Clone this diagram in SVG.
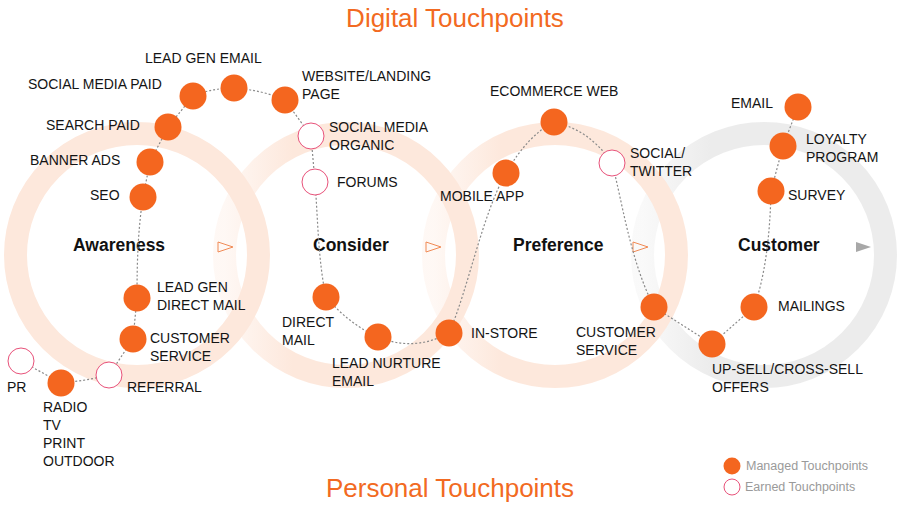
<svg xmlns="http://www.w3.org/2000/svg" width="900" height="510" viewBox="0 0 900 510">
<style>
text{font-family:"Liberation Sans",Arial,sans-serif;}
.lbl{font-size:14px;fill:#141414;}
.stage{font-size:17.5px;font-weight:bold;fill:#111;}
.title{font-size:26px;fill:#f26a22;text-anchor:middle;}
.legend{font-size:12.5px;fill:#9a9a9a;}
.m{fill:#f4661f;}
.e{fill:#fff;stroke:#e8527a;stroke-width:1;}
.ring{fill:none;stroke-width:23;}
.tri{fill:none;stroke:#f08a55;stroke-width:1;}
.conn{fill:none;stroke:#8a8a8a;stroke-width:1.2;stroke-dasharray:2 2;}
</style>
<defs>
<linearGradient id="fadeP" x1="0" y1="0" x2="1" y2="0">
<stop offset="0" stop-color="#fde8dc" stop-opacity="0.3"/>
<stop offset="0.28" stop-color="#fde8dc" stop-opacity="1"/>
<stop offset="1" stop-color="#fde8dc" stop-opacity="1"/>
</linearGradient>
<linearGradient id="fadeG" x1="0" y1="0" x2="1" y2="0">
<stop offset="0" stop-color="#ececec" stop-opacity="0.3"/>
<stop offset="0.28" stop-color="#ececec" stop-opacity="1"/>
<stop offset="1" stop-color="#ececec" stop-opacity="1"/>
</linearGradient>
</defs>
<rect width="900" height="510" fill="#fff"/>
<g id="rings">
<circle class="ring" cx="137" cy="255" r="121.5" stroke="#fde8dc"/>
<circle class="ring" cx="346" cy="255" r="121.5" stroke="url(#fadeP)"/>
<circle class="ring" cx="764" cy="255" r="121.5" stroke="url(#fadeG)"/>
<circle class="ring" cx="555" cy="255" r="121.5" stroke="url(#fadeP)"/>
</g>
<g id="stage-arrows">
<polygon class="tri" points="218,242 233,247 218,252"/>
<polygon class="tri" points="426,242 441,247 426,252"/>
<polygon class="tri" points="633,242 648,247 633,252"/>
<polygon points="856,242 871,247 856,252" fill="#a8a8a8"/>
</g>
<text class="title" x="455" y="27">Digital Touchpoints</text>
<text class="title" x="450" y="497">Personal Touchpoints</text>
<g id="stages">
<text class="stage" x="73" y="251">Awareness</text>
<text class="stage" x="313" y="251">Consider</text>
<text class="stage" x="513" y="251">Preference</text>
<text class="stage" x="738" y="251">Customer</text>
</g>
<g id="connectors">
<path class="conn" d="M21,361 L61,383 Q85,381 109,375 L133,339 L137,298 C137,260 138,230 143,197 L150,162 L168,127 L193,96 Q212,88 234,88 Q262,90 285,100 L311,136 L315,182 C318,220 318,260 326,297 Q350,325 378,337 Q414,352 449,333 C468,290 482,215 506,173 Q528,135 554,122 Q590,130 612,163 C622,200 630,260 654,307 L712,344 L754,307 C764,280 770,240 771,191 L783,146 L798,107"/>
</g>
<g id="n-pr"><circle class="e" cx="21" cy="361" r="13"/><text class="lbl" x="7" y="392">PR</text></g>
<g id="n-radio"><circle class="m" cx="61" cy="383" r="13.5"/><text class="lbl" x="43" y="412">RADIO</text><text class="lbl" x="43" y="430">TV</text><text class="lbl" x="43" y="448">PRINT</text><text class="lbl" x="43" y="466">OUTDOOR</text></g>
<g id="n-referral"><circle class="e" cx="109" cy="375" r="13"/><text class="lbl" x="127" y="392">REFERRAL</text></g>
<g id="n-custserv1"><circle class="m" cx="133" cy="339" r="13.5"/><text class="lbl" x="150" y="343">CUSTOMER</text><text class="lbl" x="150" y="361">SERVICE</text></g>
<g id="n-leadgendm"><circle class="m" cx="137" cy="298" r="13.5"/><text class="lbl" x="157" y="292">LEAD GEN</text><text class="lbl" x="157" y="310">DIRECT MAIL</text></g>
<g id="n-seo"><circle class="m" cx="143" cy="197" r="13.5"/><text class="lbl" x="90" y="200">SEO</text></g>
<g id="n-banner"><circle class="m" cx="150" cy="162" r="13.5"/><text class="lbl" x="30" y="165">BANNER ADS</text></g>
<g id="n-search"><circle class="m" cx="168" cy="127" r="13.5"/><text class="lbl" x="46" y="130">SEARCH PAID</text></g>
<g id="n-smpaid"><circle class="m" cx="193" cy="96" r="13.5"/><text class="lbl" x="28" y="89">SOCIAL MEDIA PAID</text></g>
<g id="n-lgemail"><circle class="m" cx="234" cy="88" r="13.5"/><text class="lbl" x="145" y="63">LEAD GEN EMAIL</text></g>
<g id="n-website"><circle class="m" cx="285" cy="100" r="13.5"/><text class="lbl" x="302" y="81">WEBSITE/LANDING</text><text class="lbl" x="302" y="99">PAGE</text></g>
<g id="n-smorganic"><circle class="e" cx="311" cy="136" r="13"/><text class="lbl" x="329" y="132">SOCIAL MEDIA</text><text class="lbl" x="329" y="150">ORGANIC</text></g>
<g id="n-forums"><circle class="e" cx="315" cy="182" r="13"/><text class="lbl" x="337" y="187">FORUMS</text></g>
<g id="n-directmail"><circle class="m" cx="326" cy="297" r="13.5"/><text class="lbl" x="282" y="327">DIRECT</text><text class="lbl" x="282" y="345">MAIL</text></g>
<g id="n-leadnurture"><circle class="m" cx="378" cy="337" r="13.5"/><text class="lbl" x="332" y="368">LEAD NURTURE</text><text class="lbl" x="332" y="386">EMAIL</text></g>
<g id="n-instore"><circle class="m" cx="449" cy="333" r="13.5"/><text class="lbl" x="471" y="338">IN-STORE</text></g>
<g id="n-mobile"><circle class="m" cx="506" cy="173" r="13.5"/><text class="lbl" x="440" y="201">MOBILE APP</text></g>
<g id="n-ecommerce"><circle class="m" cx="554" cy="122" r="13.5"/><text class="lbl" x="490" y="96">ECOMMERCE WEB</text></g>
<g id="n-twitter"><circle class="e" cx="612" cy="163" r="13"/><text class="lbl" x="630" y="158">SOCIAL/</text><text class="lbl" x="630" y="176">TWITTER</text></g>
<g id="n-custserv2"><circle class="m" cx="654" cy="307" r="13.5"/><text class="lbl" x="576" y="337">CUSTOMER</text><text class="lbl" x="576" y="355">SERVICE</text></g>
<g id="n-upsell"><circle class="m" cx="712" cy="344" r="13.5"/><text class="lbl" x="712" y="374">UP-SELL/CROSS-SELL</text><text class="lbl" x="712" y="392">OFFERS</text></g>
<g id="n-mailings"><circle class="m" cx="754" cy="307" r="13.5"/><text class="lbl" x="778" y="311">MAILINGS</text></g>
<g id="n-survey"><circle class="m" cx="771" cy="191" r="13.5"/><text class="lbl" x="788" y="200">SURVEY</text></g>
<g id="n-loyalty"><circle class="m" cx="783" cy="146" r="13.5"/><text class="lbl" x="806" y="144">LOYALTY</text><text class="lbl" x="806" y="162">PROGRAM</text></g>
<g id="n-email"><circle class="m" cx="798" cy="107" r="13.5"/><text class="lbl" x="731" y="108">EMAIL</text></g>
<g id="legend">
<circle class="m" cx="732" cy="466" r="8.5"/>
<text class="legend" x="746" y="470">Managed Touchpoints</text>
<circle class="e" cx="732" cy="487" r="8"/>
<text class="legend" x="745" y="491">Earned Touchpoints</text>
</g>
</svg>
